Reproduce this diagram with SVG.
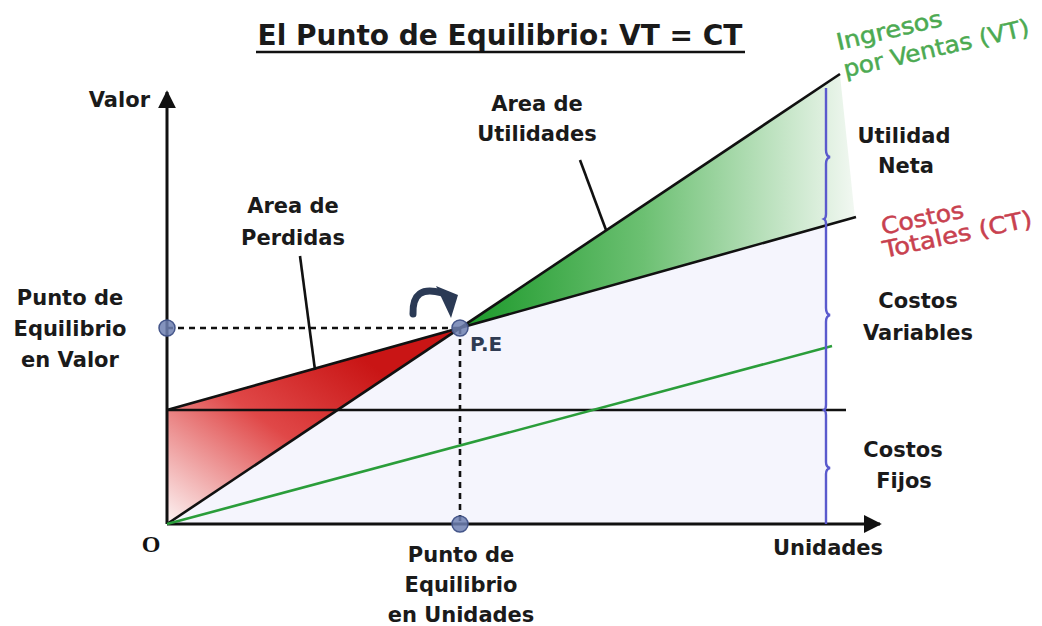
<svg xmlns="http://www.w3.org/2000/svg" width="1042" height="626" viewBox="0 0 1042 626">
<defs>
<style>
.lbl{font-family:"DejaVu Sans","Liberation Sans",sans-serif;font-weight:bold;font-size:21px;fill:#1a1a1a;text-anchor:middle}
.ax{stroke:#111;stroke-width:3;fill:none}
.ln{stroke:#111;stroke-width:2.6;fill:none}
.dash{stroke:#111;stroke-width:2.6;stroke-dasharray:6 5;fill:none}
.dot{fill:#6f80b2;fill-opacity:0.85;stroke:#45568a;stroke-width:1.5}
.rot{font-family:"DejaVu Sans","Liberation Sans",sans-serif;font-size:23px;text-anchor:middle;stroke-width:0.5}
.grn{fill:#4caa52;stroke:#4caa52}
.red{fill:#c8414f;stroke:#c8414f}
</style>
<linearGradient id="gRed" gradientUnits="userSpaceOnUse" x1="330" y1="335" x2="190" y2="530">
<stop offset="0" stop-color="#c91515"/>
<stop offset="0.45" stop-color="#e04848"/>
<stop offset="1" stop-color="#fbeaea"/>
</linearGradient>
<linearGradient id="gGreen" gradientUnits="userSpaceOnUse" x1="470" y1="0" x2="855" y2="0">
<stop offset="0" stop-color="#1e9a2c"/>
<stop offset="0.45" stop-color="#6cc072"/>
<stop offset="1" stop-color="#f2f8f2"/>
</linearGradient>
<marker id="arr" viewBox="0 0 10 10" refX="9" refY="5" markerWidth="6" markerHeight="6" orient="auto" markerUnits="strokeWidth">
<path d="M0,0 L10,5 L0,10 Z" fill="#111"/>
</marker>
</defs>
<rect width="1042" height="626" fill="#ffffff"/>

<g id="areas">
<polygon points="167,524 460,328 826,219 826,524" fill="#f5f5fd"/>
<polygon points="167,410 460,328 167,524" fill="url(#gRed)"/>
<polygon points="460,328 840,75 855,218" fill="url(#gGreen)"/>
</g>

<g id="connectors">
<line class="ax" x1="167" y1="524" x2="167" y2="92" marker-end="url(#arr)"/>
<line class="ax" x1="167" y1="524" x2="880" y2="524" marker-end="url(#arr)"/>
<line class="ln" x1="167" y1="410" x2="846" y2="410"/>
<line class="ln" x1="167" y1="524" x2="840" y2="74"/>
<line class="ln" x1="167" y1="410" x2="856" y2="217"/>
<line x1="167" y1="524" x2="832" y2="346" stroke="#2a9d3a" stroke-width="2.6"/>
<line class="dash" x1="167" y1="328" x2="460" y2="328"/>
<line class="dash" x1="460" y1="328" x2="460" y2="524"/>
<line class="ln" x1="300" y1="256" x2="315" y2="370"/>
<line class="ln" x1="580" y1="160" x2="606" y2="230"/>
<path d="M826,88 L826,150 Q826,156 830,157 Q826,158 826,164 L826,214 Q826,218 824,219 Q826,220 826,224 L826,308 Q826,314 830,315 Q826,316 826,322 L826,405 Q826,409 824,410 Q826,411 826,415 L826,462 Q826,467 830,468 Q826,469 826,474 L826,524" fill="none" stroke="#5a5acd" stroke-width="2.4"/>
<path d="M413,314 Q412,284 442,293" fill="none" stroke="#2b3a55" stroke-width="7" stroke-linecap="round"/>
<polygon points="436,286 458,295 451,318" fill="#2b3a55"/>
</g>

<g id="points">
<circle class="dot" cx="167" cy="328" r="8"/>
<circle class="dot" cx="460" cy="328" r="8"/>
<circle class="dot" cx="460" cy="524" r="8"/>
</g>

<g id="title">
<text x="500" y="45" class="lbl" style="font-size:28px">El Punto de Equilibrio: VT = CT</text>
<line x1="256" y1="52" x2="745" y2="52" stroke="#111" stroke-width="2.5"/>
</g>

<g id="axis-labels">
<text x="150" y="107" class="lbl" style="text-anchor:end">Valor</text>
<text x="828" y="555" class="lbl">Unidades</text>
<text x="151" y="552" style="font-family:'Liberation Serif',serif;font-weight:bold;font-size:24px;text-anchor:middle;fill:#111">O</text>
</g>

<g id="pe-valor">
<text x="70" y="305" class="lbl">Punto de</text>
<text x="70" y="336" class="lbl">Equilibrio</text>
<text x="70" y="367" class="lbl">en Valor</text>
</g>

<g id="pe-unidades">
<text x="461" y="562" class="lbl">Punto de</text>
<text x="461" y="592" class="lbl">Equilibrio</text>
<text x="461" y="622" class="lbl">en Unidades</text>
</g>

<g id="pe">
<text x="470" y="351" class="lbl" style="text-anchor:start;fill:#2f3b52;font-size:20px">P.E</text>
</g>

<g id="area-perdidas">
<text x="293" y="213" class="lbl">Area de</text>
<text x="293" y="245" class="lbl">Perdidas</text>
</g>

<g id="area-utilidades">
<text x="537" y="111" class="lbl">Area de</text>
<text x="537" y="141" class="lbl">Utilidades</text>
</g>

<g id="utilidad-neta">
<text x="904" y="143" class="lbl">Utilidad</text>
<text x="906" y="173" class="lbl">Neta</text>
</g>

<g id="costos-variables">
<text x="918" y="308" class="lbl">Costos</text>
<text x="918" y="340" class="lbl">Variables</text>
</g>

<g id="costos-fijos">
<text x="903" y="457" class="lbl">Costos</text>
<text x="904" y="488" class="lbl">Fijos</text>
</g>

<g id="ingresos">
<text x="891" y="38" class="rot grn" textLength="108" lengthAdjust="spacingAndGlyphs" transform="rotate(-13 891 38)">Ingresos</text>
<text x="938" y="56" class="rot grn" textLength="190" lengthAdjust="spacingAndGlyphs" transform="rotate(-13 938 56)">por Ventas (VT)</text>
</g>

<g id="costos-totales">
<text x="924" y="226" class="rot red" textLength="84" lengthAdjust="spacingAndGlyphs" transform="rotate(-12 924 226)">Costos</text>
<text x="959" y="242" class="rot red" textLength="152" lengthAdjust="spacingAndGlyphs" transform="rotate(-12 959 242)">Totales (CT)</text>
</g>
</svg>
